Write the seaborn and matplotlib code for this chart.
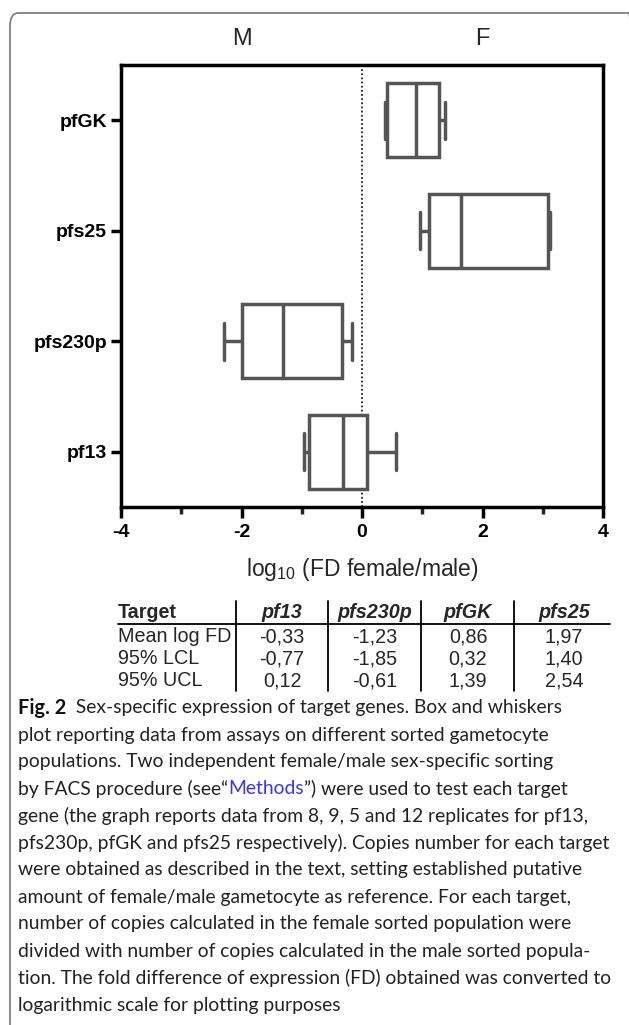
import numpy as np
import pandas as pd
import matplotlib
matplotlib.use("Agg")
import matplotlib.pyplot as plt
import seaborn as sns
from matplotlib.lines import Line2D
from matplotlib.patches import FancyBboxPatch

# ---------------- data ----------------
genes = ["pfGK", "pfs25", "pfs230p", "pf13"]
# five-number summaries (min, Q1, median, Q3, max) of log10 FD female/male
pfGK = [0.39, 0.42, 0.90, 1.27, 1.38]
pfs25 = [0.96, 1.12, 1.64, 3.08, 3.12]
pfs230p = [-2.29, -2.00, -1.31, -0.33, -0.17]
pf13 = [-0.97, -0.88, -0.31, 0.08, 0.57]

x_ticks = [-4, -2, 0, 2, 4]
x_minor = [-3, -1, 1, 3]
sex_labels = ["M", "F"]
sex_pos = [-2, 2]

table_targets = ["pf13", "pfs230p", "pfGK", "pfs25"]
table_rows = ["Mean log FD", "95% LCL", "95% UCL"]
mean_log_fd = [-0.33, -1.23, 0.86, 1.97]
lcl_95 = [-0.77, -1.85, 0.32, 1.40]
ucl_95 = [0.12, -0.61, 1.39, 2.54]

caption_lines = [
    [("Fig. 2", "bold"), ("  Sex-specific expression of target genes. Box and whiskers", "normal")],
    [("plot reporting data from assays on different sorted gametocyte", "normal")],
    [("populations. Two independent female/male sex-specific sorting", "normal")],
    [("by FACS procedure (see\u201c", "normal"), ("Methods", "link"), ("\u201d) were used to test each target", "normal")],
    [("gene (the graph reports data from 8, 9, 5 and 12 replicates for pf13,", "normal")],
    [("pfs230p, pfGK and pfs25 respectively). Copies number for each target", "normal")],
    [("were obtained as described in the text, setting established putative", "normal")],
    [("amount of female/male gametocyte as reference. For each target,", "normal")],
    [("number of copies calculated in the female sorted population were", "normal")],
    [("divided with number of copies calculated in the male sorted popula-", "normal")],
    [("tion. The fold difference of expression (FD) obtained was converted to", "normal")],
    [("logarithmic scale for plotting purposes", "normal")],
]

# ---------------- styling ----------------
sns.set_style("white")
plt.rcParams["font.family"] = ["Liberation Sans", "DejaVu Sans"]
plt.rcParams["axes.unicode_minus"] = False
plt.rcParams["mathtext.default"] = "regular"

W, H = 629, 1025
fig = plt.figure(figsize=(W / 100, H / 100), dpi=100)


def fx(x):
    return x / W


def fy(y):
    return 1 - y / H


# frame around the panel (top/left visible)
frame = FancyBboxPatch((fx(10), fy(1060)), fx(627), fy(13) - fy(1060),
                       boxstyle="round,pad=0,rounding_size=0.013",
                       transform=fig.transFigure, fill=False,
                       edgecolor="#777777", linewidth=1.2, clip_on=False)
fig.add_artist(frame)

ax = fig.add_axes([fx(121), fy(507), fx(603) - fx(121), fy(65) - fy(507)])

df = pd.DataFrame({
    "gene": np.repeat(genes, 5),
    "value": pfGK + pfs25 + pfs230p + pf13,
})

line_col = "#555555"
sns.boxplot(data=df, x="value", y="gene", order=genes, whis=(0, 100),
            width=0.67, color="white", linecolor=line_col, linewidth=2.5,
            saturation=1, ax=ax)

ax.axvline(0, color="#222222", linestyle=(0, (1, 1.3)), linewidth=1.3, zorder=0)

ax.set_xlim(-4, 4)
ax.set_ylim(3.5, -0.5)
ax.set_xticks(x_ticks)
ax.set_xticklabels([str(t) for t in x_ticks], fontsize=14, fontweight="bold")
ax.set_xticks(x_minor, minor=True)
ax.set_yticks(range(len(genes)))
ax.set_yticklabels(genes, fontsize=14, fontweight="bold")
ax.set_ylabel("")
ax.set_xlabel("log$_{10}$ (FD female/male)", fontsize=16.5, labelpad=11)

for s in ax.spines.values():
    s.set_visible(True)
    s.set_linewidth(2.5)
    s.set_color("black")
ax.tick_params(axis="x", which="major", direction="out", length=8, width=2.5,
               bottom=True, pad=4, colors="black")
ax.tick_params(axis="x", which="minor", direction="out", length=5, width=2.5,
               bottom=True)
ax.tick_params(axis="y", which="major", direction="out", length=7, width=2.5,
               left=True, pad=3, colors="black")

for lab, pos in zip(sex_labels, sex_pos):
    ax.text(pos, 1.0 + 26 / 442, lab, transform=ax.get_xaxis_transform(),
            ha="center", va="center", fontsize=17)

# ---------------- table ----------------
tfs = 14.2
x_left = 118
col_centers = [282, 375, 468, 564]
seps = [236, 328, 421, 514]
y_header = 613
y_rows = [637, 659, 681]

fig.text(fx(x_left), fy(y_header), "Target", fontsize=tfs, fontweight="bold",
         ha="left", va="center")
for name, cx in zip(table_targets, col_centers):
    fig.text(fx(cx), fy(y_header), name, fontsize=tfs, fontweight="bold",
             style="italic", ha="center", va="center")


def fmt(v):
    return f"{v:.2f}".replace(".", ",")


for rname, vals, yy in zip(table_rows, [mean_log_fd, lcl_95, ucl_95], y_rows):
    fig.text(fx(x_left), fy(yy), rname, fontsize=tfs, ha="left", va="center")
    for v, cx in zip(vals, col_centers):
        fig.text(fx(cx), fy(yy), fmt(v), fontsize=tfs, ha="center", va="center")

fig.add_artist(Line2D([fx(118), fx(610)], [fy(624), fy(624)],
                      transform=fig.transFigure, color="black", linewidth=1.3))
for sx in seps:
    fig.add_artist(Line2D([fx(sx), fx(sx)], [fy(601), fy(691)],
                          transform=fig.transFigure, color="black", linewidth=1.3))

# ---------------- caption ----------------
cap_font = ["Lato", "DejaVu Sans"]
cfs = 13.85
renderer = fig.canvas.get_renderer()
for i, parts in enumerate(caption_lines):
    x = 18
    yy = 708 + 27 * i
    for txt, kind in parts:
        kw = dict(fontsize=cfs, family=cap_font, ha="left", va="center")
        if kind == "bold":
            kw["fontweight"] = "bold"
            kw["fontsize"] = cfs + 0.6
            kw["color"] = "#111111"
        elif kind == "link":
            kw["color"] = "#3535ff"
        else:
            kw["color"] = "#222222"
        t = fig.text(fx(x), fy(yy), txt, **kw)
        bb = t.get_window_extent(renderer=renderer)
        x += bb.width

fig.savefig("out.png", dpi=100)
